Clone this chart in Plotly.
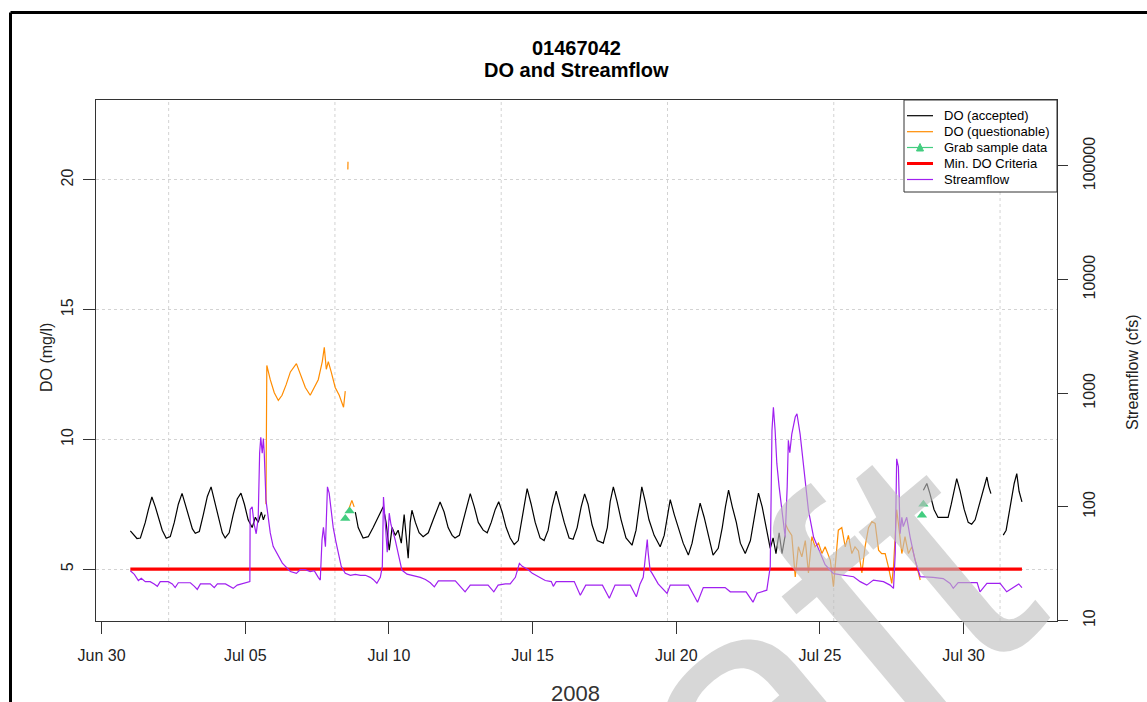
import pandas as pd
import plotly.graph_objects as go

BASE = pd.Timestamp("2008-06-30")  # day offsets below are days since this date

# ---------------- data ----------------
# DO accepted (mg/l); None separates segments
do_acc_days = [1.00, 1.23, 1.35, 1.52, 1.63, 1.75, 1.87, 1.97, 2.11, 2.25, 2.39, 2.53, 2.67, 2.80, 2.91,
               3.05, 3.16, 3.26, 3.40, 3.54, 3.68, 3.81, 3.92, 4.06, 4.20, 4.30, 4.44, 4.58, 4.72, 4.85,
               4.97, 5.10, 5.24, 5.35, 5.45, 5.56, 5.63, 5.69, None,
               8.83, 8.93, 9.10, 9.28, 9.45, 9.63, 9.80, 9.90, 10.01, 10.11, 10.22, 10.32, 10.43, 10.53,
               10.67, 10.74, 10.80, 10.92, 11.05, 11.19, 11.37, 11.54, 11.68, 11.78, 11.92, 12.06, 12.20,
               12.30, 12.45, 12.62, 12.73, 12.83, 12.97, 13.11, 13.28, 13.42, 13.56, 13.70, 13.82, 13.94,
               14.08, 14.22, 14.36, 14.50, 14.64, 14.81, 14.95, 15.09, 15.26, 15.40, 15.54, 15.68, 15.82,
               15.96, 16.10, 16.27, 16.41, 16.55, 16.69, 16.81, 16.93, 17.07, 17.25, 17.46, 17.60, 17.70,
               17.81, 17.94, 18.08, 18.25, 18.46, 18.60, 18.71, 18.80, 18.92, 19.05, 19.23, 19.44, 19.58,
               19.68, 19.79, 19.93, 20.07, 20.24, 20.42, 20.55, 20.69, 20.83, 20.97, 21.11, 21.28, 21.46,
               21.60, 21.71, 21.82, 21.95, 22.09, 22.23, 22.40, 22.58, 22.72, 22.86, 22.99, 23.13, 23.27,
               23.37, 23.47, 23.58, 23.68, 23.79, None,
               28.60, 28.72, 28.83, 28.97, 29.11, 29.46, 29.57, 29.67, 29.76, 29.88, 30.02, 30.16, 30.28,
               30.40, 30.57, 30.71, 30.81, 30.87, 30.95, None,
               31.38, 31.48, 31.62, 31.76, 31.85, 31.93, 32.03]
do_acc_vals = [6.47, 6.18, 6.20, 6.80, 7.30, 7.78, 7.40, 7.00, 6.50, 6.19, 6.25, 6.80, 7.50, 7.92, 7.50,
               6.90, 6.55, 6.38, 6.45, 7.10, 7.80, 8.17, 7.70, 7.00, 6.40, 6.20, 6.40, 7.10, 7.70, 7.93,
               7.50, 6.90, 6.60, 7.00, 6.80, 7.20, 6.90, 7.10, None,
               7.20, 6.60, 6.20, 6.25, 6.60, 7.00, 7.40, 6.80, 5.73, 6.60, 6.30, 6.50, 6.00, 7.10,
               5.42, 6.80, 7.27, 6.80, 6.40, 6.25, 6.40, 6.90, 7.30, 7.59, 7.20, 6.60, 6.30,
               6.20, 6.30, 7.00, 7.50, 7.91, 7.40, 6.80, 6.50, 6.40, 6.80, 7.30, 7.60, 7.20,
               6.60, 6.20, 5.95, 6.10, 7.00, 8.10, 7.50, 6.80, 6.20, 6.10, 6.50, 7.40, 8.00,
               7.40, 6.80, 6.20, 6.15, 6.60, 7.40, 7.90, 7.50, 6.70, 6.10, 6.00, 6.60, 7.60,
               8.17, 7.60, 6.90, 6.20, 5.92, 6.50, 7.50, 8.17, 7.60, 6.90, 6.30, 5.86, 6.30,
               7.00, 7.68, 7.10, 6.60, 6.00, 5.54, 6.00, 6.80, 7.54, 7.00, 6.30, 5.54, 5.80,
               6.60, 7.40, 8.04, 7.40, 6.80, 6.00, 5.60, 6.10, 7.00, 7.93, 7.40, 6.60, 5.80,
               6.20, 5.60, 6.40, 5.60, 6.30, None,
               8.04, 8.30, 7.90, 7.30, 6.99, 6.99, 7.50, 8.10, 8.49, 8.00, 7.30, 6.80, 6.73,
               6.90, 7.60, 8.20, 8.55, 8.20, 7.91, None,
               6.31, 6.50, 7.40, 8.30, 8.68, 8.00, 7.59]

# DO questionable (mg/l)
do_q_days = [5.72, 5.75, 5.87, 6.01, 6.15, 6.28, 6.42, 6.57, 6.78, 6.91, 7.09, 7.26, 7.40, 7.54, 7.68,
             7.75, 7.82, 7.89, 7.99, 8.13, 8.27, 8.42, 8.48, None,
             8.57, 8.575, None,
             8.60, 8.71, 8.79, None,
             23.79, 23.90, 24.02, 24.14, 24.25, 24.37, 24.49, 24.60, 24.72, 24.83, 24.95, 25.07, 25.18,
             25.36, 25.47, 25.53, 25.64, 25.76, 25.88, 25.99, 26.11, 26.22, 26.34, 26.46, 26.57, 26.69,
             26.81, 26.92, 27.04, 27.15, 27.27, 27.38, 27.50, 27.56, 27.67, 27.73, 27.85, 27.96, 28.08,
             28.20, 28.31, 28.43, 28.49]
do_q_vals = [7.50, 12.85, 12.30, 11.80, 11.50, 11.70, 12.10, 12.60, 12.92, 12.50, 12.00, 11.70, 12.00, 12.30, 13.00,
             13.55, 12.70, 13.00, 12.60, 12.00, 11.70, 11.24, 11.86, None,
             20.40, 20.70, None,
             7.30, 7.65, 7.40, None,
             6.76, 6.50, 6.30, 4.70, 5.86, 5.47, 6.10, 4.85, 6.25, 5.86, 6.00, 5.60, 5.86,
             5.35, 4.32, 5.10, 6.50, 6.60, 5.86, 6.30, 5.60, 5.86, 5.70, 4.85, 5.86, 6.60,
             6.83, 6.76, 5.73, 5.60, 5.60, 5.10, 4.45, 5.10, 7.29, 6.76, 5.60, 6.25, 5.60,
             5.86, 5.35, 4.85, 4.58]

# Grab samples (mg/l)
grab_days = [8.48, 8.63, 28.55, 28.60]
grab_vals = [6.95, 7.24, 7.08, 7.50]

# Minimum DO criteria
crit_days = [1.00, 32.03]
crit_vals = [5.0, 5.0]

# Streamflow (cfs)
q_days = [1.00, 1.14, 1.28, 1.38, 1.52, 1.69, 1.83, 1.94, 2.04, 2.32, 2.46, 2.56, 2.67, 3.09, 3.23, 3.33,
          3.44, 3.78, 3.92, 4.03, 4.31, 4.48, 4.58, 4.72, 5.10, 5.16, 5.17, 5.24, 5.31, 5.38, 5.45, 5.50,
          5.54, 5.59, 5.63, 5.66, 5.72, 5.80, 5.87, 5.97, 6.10, 6.29, 6.57, 6.78, 6.91, 7.09, 7.26, 7.40,
          7.54, 7.61, 7.67, 7.72, 7.79, 7.86, 7.92, 7.99, 8.06, 8.15, 8.24, 8.34, 8.48, 8.66, 8.83, 9.01,
          9.18, 9.35, 9.45, 9.58, 9.70, 9.77, 9.81, 9.87, 9.94, 10.01, 10.07, 10.22, 10.32, 10.45, 10.63,
          10.92, 11.09, 11.27, 11.44, 11.58, 11.72, 12.31, 12.48, 12.65, 12.83, 13.45, 13.65, 13.80, 14.05,
          14.22, 14.40, 14.47, 14.54, 14.64, 14.85, 14.99, 15.12, 15.44, 15.65, 15.72, 15.82, 16.45, 16.66,
          16.85, 17.43, 17.67, 17.87, 18.40, 18.61, 18.74, 18.85, 18.99, 19.02, 19.09, 19.16, 19.37, 19.68,
          19.79, 20.42, 20.74, 20.94, 21.70, 21.88, 22.43, 22.67, 22.81, 23.15, 23.27, 23.33, 23.38, 23.44,
          23.50, 23.58, 23.67, 23.79, 23.86, 23.90, 23.95, 24.02, 24.14, 24.20, 24.31, 24.43, 24.60, 24.78,
          25.01, 25.18, 25.36, 25.47, 26.17, 26.40, 26.63, 26.86, 27.21, 27.44, 27.56, 27.62, 27.67, 27.73,
          27.79, 27.85, 27.90, 28.02, 28.14, 28.31, 28.49, 28.94, 29.29, 29.53, 29.64, 29.81, 30.47, 30.57,
          30.81, 31.27, 31.50, 31.85, 31.92, 32.03]
q_vals = [27.4, 25.5, 22.5, 23.5, 22.0, 22.0, 21.0, 20.0, 22.0, 22.0, 21.0, 19.5, 21.5, 21.5, 20.0, 18.8,
          21.0, 21.0, 19.5, 21.0, 21.0, 20.0, 19.2, 20.5, 21.5, 22.0, 95, 100, 70, 58, 80, 300,
          410, 296, 400, 300, 115, 80, 59, 45, 39, 32, 27, 26, 28, 28, 27, 27.5,
          24, 22.7, 51, 66, 44.6, 150, 132, 95, 66, 50, 39, 30, 26, 25, 25.5, 25,
          25, 24, 23, 21.3, 24, 30, 122, 70, 40, 88, 70, 51, 38, 27.8, 25.6,
          24.6, 24.0, 23.0, 21.5, 19.8, 22.3, 22.3, 20.0, 17.9, 20.5, 20.5, 17.9, 20.5, 21.0,
          21.0, 24, 28, 31.8, 30, 28, 26, 25, 22.5, 22, 20, 22, 22, 16.7,
          20.5, 20.5, 15.7, 20.5, 20.5, 16.2, 21, 24, 51.6, 40, 27.7, 26, 21, 17.3,
          20.5, 20.5, 14.5, 19.5, 19.5, 17.9, 17.9, 14.5, 17.4, 18.5, 29.7, 470, 753, 470,
          240, 150, 93, 54, 150, 385, 300, 437, 617, 660, 437, 225, 93, 54,
          39, 31, 27.7, 25.9, 24.3, 22, 20.5, 22.7, 22, 20.5, 19.2, 39, 265, 225,
          58, 81, 67, 81, 54, 34, 24.3, 24, 23.4, 21.2, 19.2, 21.6, 21.6, 17.9,
          21.2, 21.2, 17.9, 20.5, 21, 19.5]

# axis ticks / grid
x_tick_dates = ["2008-06-30", "2008-07-05", "2008-07-10", "2008-07-15", "2008-07-20", "2008-07-25", "2008-07-30"]
x_tick_labels = ["Jun 30", "Jul 05", "Jul 10", "Jul 15", "Jul 20", "Jul 25", "Jul 30"]
x_grid_times = ["2008-07-02 08:00:00", "2008-07-08 02:53:20", "2008-07-13 21:46:40",
                "2008-07-19 16:40:00", "2008-07-25 11:33:20", "2008-07-31 06:26:40"]
x_range_days = [-0.195, 33.25]
do_ticks = [5, 10, 15, 20]
do_range = [3.0, 23.08]
q_ticks = [10, 100, 1000, 10000, 100000]
q_tick_labels = ["10", "100", "1000", "10000", "100000"]
q_log_range = [0.996, 5.58]

legend_labels = ["DO (accepted)", "DO (questionable)", "Grab sample data", "Min. DO Criteria", "Streamflow"]
legend_colors = ["#000000", "#FF8C00", "#43CD80", "#FF0000", "#A020F0"]
legend_widths = [1.2, 1.2, 1.2, 3, 1.2]


def to_time(days):
    return [None if d is None else BASE + pd.Timedelta(days=d) for d in days]


FONT = "Liberation Sans, Arial, Helvetica, sans-serif"
W, H = 1147, 702
ML, MR, MT, MB = 96, 90, 100, 81
PW, PH = W - ML - MR, H - MT - MB


def PX(px):
    return (px - ML) / PW


def PY(py):
    return (H - MB - py) / PH


fig = go.Figure()

fig.add_trace(go.Scatter(x=to_time(do_acc_days), y=do_acc_vals, mode="lines",
                         line=dict(color="#000000", width=1.2), connectgaps=False, name="DO (accepted)"))
fig.add_trace(go.Scatter(x=to_time(do_q_days), y=do_q_vals, mode="lines",
                         line=dict(color="#FF8C00", width=1.2), connectgaps=False, name="DO (questionable)"))
fig.add_trace(go.Scatter(x=to_time(grab_days), y=grab_vals, mode="markers",
                         marker=dict(symbol="triangle-up", size=9, color="#43CD80"), name="Grab sample data"))
fig.add_trace(go.Scatter(x=to_time(crit_days), y=crit_vals, mode="lines",
                         line=dict(color="#FF0000", width=3.2), name="Min. DO Criteria"))
fig.add_trace(go.Scatter(x=to_time(q_days), y=q_vals, mode="lines", yaxis="y2",
                         line=dict(color="#A020F0", width=1.2), name="Streamflow"))

axis_col = "#333333"
fig.update_layout(
    width=W, height=H, margin=dict(l=ML, r=MR, t=MT, b=MB, pad=0),
    paper_bgcolor="white", plot_bgcolor="white", showlegend=False,
    font=dict(family=FONT, color="#222222", size=16),
    xaxis=dict(type="date", range=to_time(x_range_days),
               tickvals=pd.to_datetime(x_tick_dates), ticktext=x_tick_labels,
               ticks="outside", ticklen=12, tickwidth=1, tickcolor=axis_col,
               showline=True, linecolor=axis_col, linewidth=1, mirror=True,
               showgrid=False, zeroline=False, tickfont=dict(size=16), ticklabelstandoff=8),
    yaxis=dict(range=do_range, tickvals=do_ticks, ticks="outside", ticklen=12, tickwidth=1,
               tickcolor=axis_col, tickangle=-90, showline=True, linecolor=axis_col, linewidth=1,
               mirror=True, showgrid=True, gridcolor="#D3D3D3", griddash="dot", gridwidth=1,
               zeroline=False, tickfont=dict(size=16), ticklabelstandoff=4),
    yaxis2=dict(overlaying="y", side="right", type="log", range=q_log_range,
                tickvals=q_ticks, ticktext=q_tick_labels, ticks="outside", ticklen=10, tickwidth=1,
                tickcolor=axis_col, tickangle=-90, showline=True, linecolor=axis_col, linewidth=1,
                showgrid=False, zeroline=False, tickfont=dict(size=16), ticklabelstandoff=8),
)

shapes = []
# vertical dotted grid lines
for g in x_grid_times:
    shapes.append(dict(type="line", xref="x", yref="paper", x0=g, x1=g, y0=0, y1=1,
                       line=dict(color="#D3D3D3", width=1, dash="dot"), layer="below"))
# outer frame (left & top)
shapes.append(dict(type="line", xref="paper", yref="paper", x0=PX(10.5), x1=PX(10.5), y0=PY(12.5), y1=PY(H + 5),
                   line=dict(color="black", width=3)))
shapes.append(dict(type="line", xref="paper", yref="paper", x0=PX(10.5), x1=PX(W + 5), y0=PY(12.5), y1=PY(12.5),
                   line=dict(color="black", width=3)))
# legend box
shapes.append(dict(type="rect", xref="paper", yref="paper", x0=PX(904), x1=PX(1057), y0=PY(192), y1=PY(100),
                   line=dict(color=axis_col, width=1), fillcolor="white", layer="above"))
row_y = [115.7, 131.7, 147.5, 163.5, 179.5]
annotations = []
for lab, col, wd, ry in zip(legend_labels, legend_colors, legend_widths, row_y):
    shapes.append(dict(type="line", xref="paper", yref="paper", x0=PX(907), x1=PX(933), y0=PY(ry), y1=PY(ry),
                       line=dict(color=col, width=wd), layer="above"))
    annotations.append(dict(text=lab, xref="paper", yref="paper", x=PX(942), y=PY(ry), xanchor="left",
                            yanchor="middle", showarrow=False, font=dict(size=13, color="black", family=FONT)))
# triangle in legend
ty = row_y[2]
shapes.append(dict(type="path", xref="paper", yref="paper",
                   path=f"M {PX(916.5)} {PY(ty + 3.5)} L {PX(923.5)} {PY(ty + 3.5)} L {PX(920)} {PY(ty - 4)} Z",
                   fillcolor="#43CD80", line=dict(color="#43CD80", width=1), layer="above"))

# titles
annotations += [
    dict(text="<b>01467042</b>", xref="paper", yref="paper", x=PX(576), y=PY(48), showarrow=False,
         xanchor="center", yanchor="middle", font=dict(size=20, color="black", family=FONT)),
    dict(text="<b>DO and Streamflow</b>", xref="paper", yref="paper", x=PX(576), y=PY(69.5), showarrow=False,
         xanchor="center", yanchor="middle", font=dict(size=20, color="black", family=FONT)),
    dict(text="DO (mg/l)", xref="paper", yref="paper", x=PX(46), y=PY(358), showarrow=False, textangle=-90,
         xanchor="center", yanchor="middle", font=dict(size=16, color="#222222", family=FONT)),
    dict(text="Streamflow (cfs)", xref="paper", yref="paper", x=PX(1132), y=PY(372), showarrow=False,
         textangle=-90, xanchor="center", yanchor="middle", font=dict(size=16, color="#222222", family=FONT)),
    dict(text="2008", xref="paper", yref="paper", x=PX(575), y=PY(679), showarrow=False,
         xanchor="center", yanchor="top", font=dict(size=22, color="#333333", family=FONT)),
    # watermark
    dict(text="Draft", xref="paper", yref="paper", x=PX(674), y=PY(772), showarrow=False, textangle=-40,
         xanchor="center", yanchor="middle", font=dict(size=360, color="rgba(190,190,190,0.62)", family=FONT)),
]
fig.update_layout(shapes=shapes, annotations=annotations)

fig.write_html("out.html", config={"displayModeBar": False},
               post_script="document.body.style.margin='0';document.body.style.overflow='hidden';")
